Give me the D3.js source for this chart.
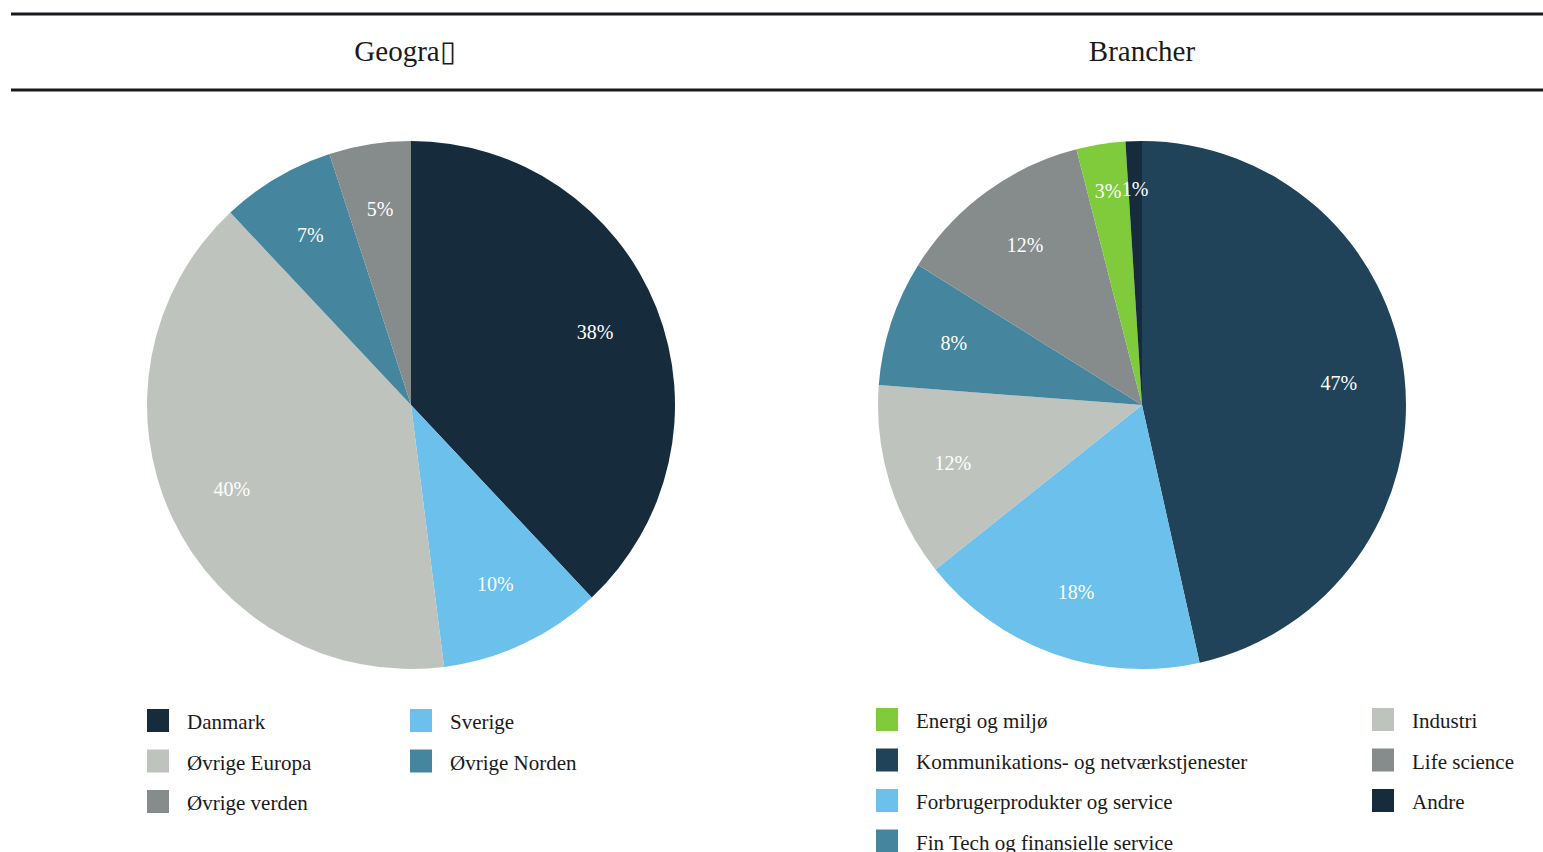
<!DOCTYPE html>
<html>
<head>
<meta charset="utf-8">
<script src="https://cdn.jsdelivr.net/npm/d3@7"></script>
<style>
  body { margin: 0; background: #fff; }
  text { font-family: "Liberation Serif", "Times New Roman", serif; }
</style>
</head>
<body>
<svg id="chart"></svg>
<script>
// Geography
var geoNames = ['Danmark', 'Sverige', 'Øvrige Europa', 'Øvrige Norden', 'Øvrige verden']
var geoValues = [38, 10, 40, 7, 5]
var geoColors = ['#162b3c', '#6bc0ec', '#bfc3bd', '#45869e', '#868b8b']
var geoLegendOrder = ['Danmark', 'Sverige', 'Øvrige Europa', 'Øvrige Norden', 'Øvrige verden']

// Sectors
var secNames = ['Kommunikations- og netværkstjenester', 'Forbrugerprodukter og service', 'Industri',
  'Fin Tech og finansielle service', 'Life science', 'Energi og miljø', 'Andre']
var secValues = [46.5, 17.8, 11.9, 7.7, 12.1, 3.0, 1.0]
var secColors = ['#21435a', '#6bc0ec', '#bfc3bd', '#45869e', '#868b8b', '#7fcb3c', '#162b3c']
var secLegendOrder = ['Energi og miljø', 'Industri', 'Kommunikations- og netværkstjenester', 'Life science',
  'Forbrugerprodukter og service', 'Andre', 'Fin Tech og finansielle service']

var width = 1543,
    height = 852,
    radius = 264

var svg = d3.select('#chart')
  .attr('width', width)
  .attr('height', height)

// Header rules
svg.selectAll('line.rule')
  .data([14, 90])
  .enter()
  .append('line')
  .attr('x1', 11)
  .attr('x2', width)
  .attr('y1', function (d) { return d })
  .attr('y2', function (d) { return d })
  .attr('stroke', '#1b1b1f')
  .attr('stroke-width', 3)

svg.append('text')
  .attr('x', 405).attr('y', 61)
  .attr('text-anchor', 'middle')
  .attr('font-size', 29)
  .attr('fill', '#1a1a1a')
  .text('Geogra▯')

svg.append('text')
  .attr('x', 1142).attr('y', 61)
  .attr('text-anchor', 'middle')
  .attr('font-size', 29)
  .attr('fill', '#1a1a1a')
  .text('Brancher')

function drawPie(cx, cy, names, values, colors) {
  var pie = d3.pie().sort(null)
  var arc = d3.arc().innerRadius(0).outerRadius(radius)
  var labelArc = d3.arc().innerRadius(radius * 0.75).outerRadius(radius * 0.75)
  // thin slices get their label pushed a bit further out
  var thinArc = d3.arc().innerRadius(radius * 0.82).outerRadius(radius * 0.82)
  var g = svg.append('g').attr('transform', 'translate(' + cx + ',' + cy + ')')
  var arcs = pie(values)

  g.selectAll('path')
    .data(arcs)
    .enter()
    .append('path')
    .attr('d', arc)
    .attr('fill', function (d, i) { return colors[i] })

  g.selectAll('text')
    .data(arcs)
    .enter()
    .append('text')
    .attr('transform', function (d) {
      var a = (d.endAngle - d.startAngle) < 0.25 ? thinArc : labelArc
      return 'translate(' + a.centroid(d) + ')'
    })
    .attr('text-anchor', 'middle')
    .attr('dy', '0.35em')
    .attr('font-size', 20)
    .attr('fill', '#fff')
    .text(function (d) { return Math.round(d.value) + '%' })
}

function drawLegend(x0, colX, y0, order, names, colors) {
  var items = order.map(function (n, k) {
    return { name: n, color: colors[names.indexOf(n)], col: k % 2, row: Math.floor(k / 2) }
  })
  var g = svg.append('g')
  var item = g.selectAll('g')
    .data(items)
    .enter()
    .append('g')
    .attr('transform', function (d) {
      return 'translate(' + (d.col ? colX : x0) + ',' + (y0 + d.row * 40.5) + ')'
    })
  item.append('rect')
    .attr('x', 0).attr('y', -12)
    .attr('width', 22).attr('height', 23)
    .attr('fill', function (d) { return d.color })
  item.append('text')
    .attr('x', 40).attr('y', 8)
    .attr('font-size', 21)
    .attr('fill', '#1a1a1a')
    .text(function (d) { return d.name })
}

drawPie(411, 405, geoNames, geoValues, geoColors)
drawPie(1142, 405, secNames, secValues, secColors)

drawLegend(147, 410, 721, geoLegendOrder, geoNames, geoColors)
drawLegend(876, 1372, 720, secLegendOrder, secNames, secColors)
</script>
</body>
</html>
